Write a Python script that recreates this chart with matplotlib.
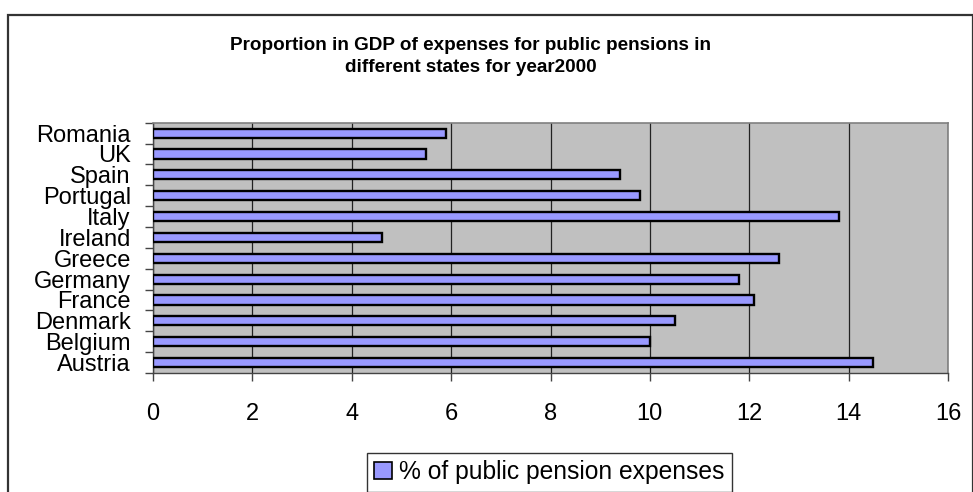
import matplotlib.pyplot as plt
from matplotlib.patches import Rectangle, Patch
import numpy as np

plt.rcParams['font.family'] = ['Liberation Sans', 'DejaVu Sans']

# data (bottom -> top)
countries = ['Austria', 'Belgium', 'Denmark', 'France', 'Germany', 'Greece',
             'Ireland', 'Italy', 'Portugal', 'Spain', 'UK', 'Romania']
pension_pct = [14.5, 10.0, 10.5, 12.1, 11.8, 12.6, 4.6, 13.8, 9.8, 9.4, 5.5, 5.9]
x_ticks = [0, 2, 4, 6, 8, 10, 12, 14, 16]

W, H = 973, 492
fig = plt.figure(figsize=(W / 100, H / 100), dpi=100)

# outer chart border (top/left/right, bottom cut off)
fig.patches.append(Rectangle((8 / W, -0.05), 964.5 / W, 1.05 - 14.5 / H,
                             transform=fig.transFigure, fill=False,
                             edgecolor='#333333', linewidth=1.6))

ax = fig.add_axes([153 / W, 1 - 373 / H, (948 - 153) / W, (373 - 122.7) / H])
ax.set_facecolor('#C0C0C0')

y = np.arange(len(countries))
ax.barh(y, pension_pct, height=0.44, color='#9999FF', edgecolor='black',
        linewidth=1.7, zorder=3)

ax.set_xlim(0, 16)
ax.set_ylim(-0.5, len(countries) - 0.5)
ax.set_xticks(x_ticks)
ax.tick_params(axis='x', labelsize=17, length=6, width=1, direction='out',
               pad=15.5, color='#444444')
ax.grid(axis='x', color='#222222', linewidth=0.9, zorder=1)

# category boundaries as ticks, names at centers
ax.set_yticks(np.arange(len(countries) + 1) - 0.5)
ax.set_yticklabels([])
ax.set_yticks(y, minor=True)
ax.set_yticklabels(countries, minor=True, fontsize=17)
ax.tick_params(axis='y', which='major', length=6, width=1, color='#444444')
ax.tick_params(axis='y', which='minor', length=0, pad=16)

for s in ['top', 'right']:
    ax.spines[s].set_color('#808080')
    ax.spines[s].set_linewidth(1.2)
for s in ['left', 'bottom']:
    ax.spines[s].set_color('#444444')
    ax.spines[s].set_linewidth(1.0)

fig.text(471 / W, 1 - 56.5 / H,
         'Proportion in GDP of expenses for public pensions in\ndifferent states for year2000',
         ha='center', va='center', fontsize=13.6, fontweight='bold',
         linespacing=1.45)

handle = Patch(facecolor='#9999FF', edgecolor='black', linewidth=1.2)
leg = fig.legend([handle], ['% of public pension expenses'],
                 loc='upper left', bbox_to_anchor=(367 / W, 1 - 453 / H),
                 fontsize=17.7, frameon=True, fancybox=False,
                 handlelength=0.7, handleheight=0.7, handletextpad=0.3,
                 borderpad=0.3, borderaxespad=0)
leg.get_frame().set_edgecolor('black')
leg.get_frame().set_linewidth(1.0)

plt.savefig('out.png', dpi=100)
